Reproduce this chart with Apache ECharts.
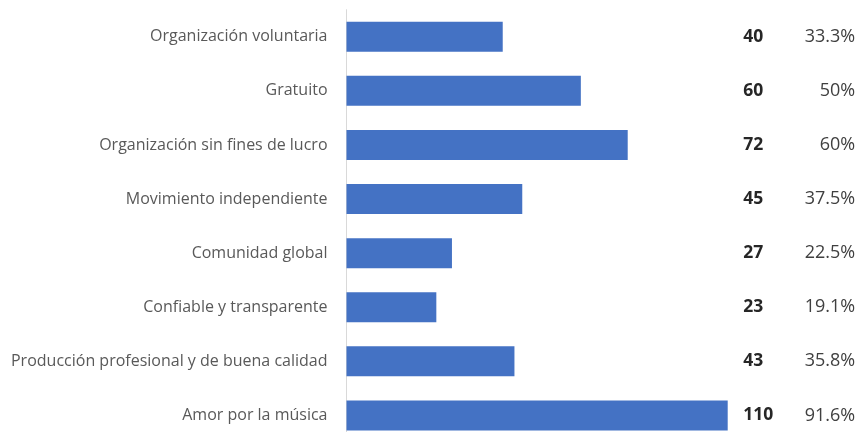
<!DOCTYPE html>
<html>
<head>
<meta charset="utf-8">
<script src="https://cdn.jsdelivr.net/npm/echarts@6/dist/echarts.min.js"></script>
<style>html,body{margin:0;padding:0;background:#fff}#c{width:859px;height:432px}</style>
</head>
<body>
<div id="c"></div>
<script>
var categories = ['Organización voluntaria','Gratuito','Organización sin fines de lucro','Movimiento independiente','Comunidad global','Confiable y transparente','Producción profesional y de buena calidad','Amor por la música'];
var counts = [40, 60, 72, 45, 27, 23, 43, 110];
var percents = ['33.3%','50%','60%','37.5%','22.5%','19.1%','35.8%','91.6%'];

var chart = echarts.init(document.getElementById('c'));
chart.setOption({
  animation: false,
  grid: {left: 346.5, width: 381.2, top: 9.7, height: 432.8, containLabel: false, outerBoundsMode: 'none'},
  xAxis: {type: 'value', min: 0, max: 97.6, show: false},
  yAxis: [{
    type: 'category', data: categories, inverse: true,
    axisLine: {show: true, lineStyle: {color: '#d9d9d9', width: 1}},
    axisTick: {show: false},
    axisLabel: {margin: 19, color: '#595959', fontSize: 16, fontFamily: 'Open Sans'}
  }, {
    type: 'category', data: categories, inverse: true, position: 'right',
    axisLine: {show: false}, axisTick: {show: false},
    axisLabel: {
      margin: 15.5,
      formatter: function (v, i) { return '{a|' + counts[i] + '}{b|' + percents[i] + '}'; },
      rich: {
        a: {width: 40, align: 'left', fontWeight: 'bold', color: '#262626', fontSize: 17.5, fontFamily: 'Open Sans'},
        b: {width: 72, align: 'right', color: '#404040', fontSize: 18, fontFamily: 'Open Sans'}
      }
    }
  }],
  series: [{
    type: 'bar', data: counts, barWidth: 30, clip: true,
    itemStyle: {color: '#4472C4'}
  }]
});
</script>
</body>
</html>
